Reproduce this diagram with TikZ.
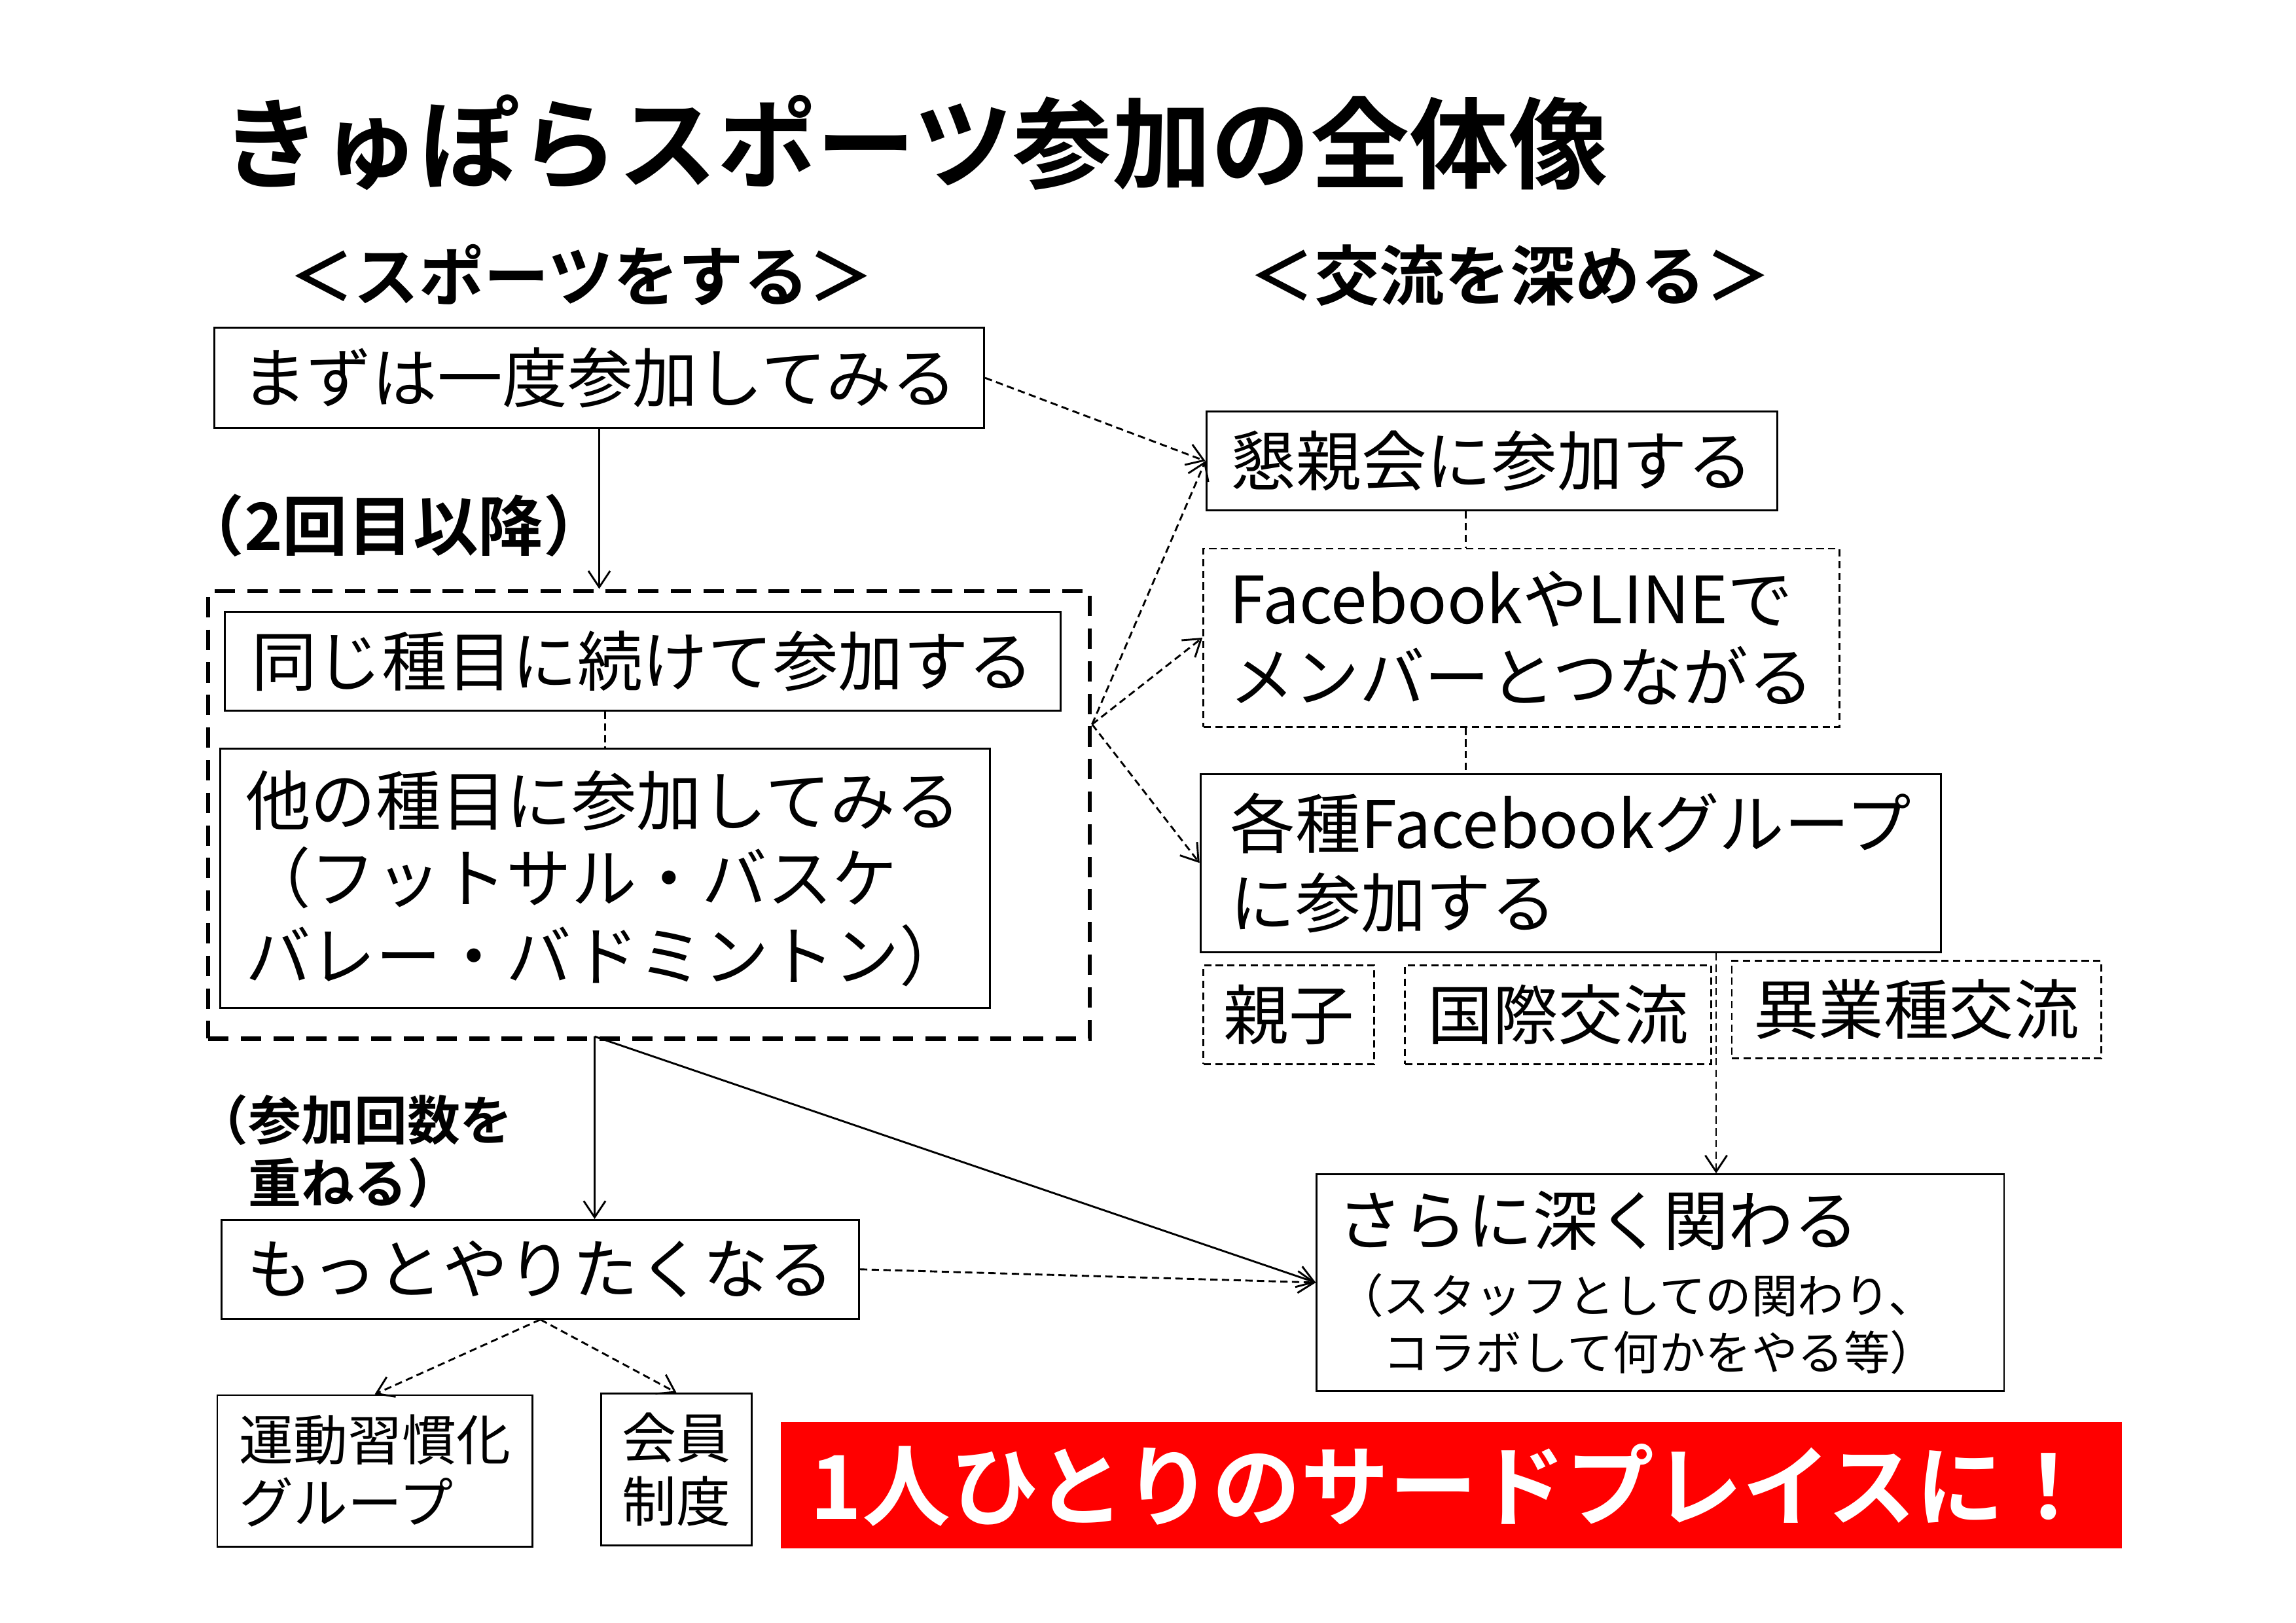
\documentclass[tikz,border=0pt]{standalone}
\usepackage{fontspec}
\setmainfont{Noto Sans CJK JP}[BoldFont={Noto Sans CJK JP Bold}]
\usetikzlibrary{arrows.meta}
\newcommand{\pxu}{0.019038cm}
\tikzset{
  boxed/.style 2 args={anchor=north west, align=left, inner sep=0pt,
    minimum width=#1*\pxu, minimum height=#2*\pxu,
    font=\fontsize{24pt}{28.6pt}\selectfont},
  solidbox/.style 2 args={boxed={#1}{#2}, draw},
  dashbox/.style 2 args={boxed={#1}{#2}, draw, dash pattern=on 2.7pt off 1.6pt},
  groupbox/.style 2 args={boxed={#1}{#2}, draw, line width=1.6pt, dash pattern=on 7.5pt off 4.5pt},
  thindash/.style={dash pattern=on 2.7pt off 1.6pt},
  heading/.style={font=\fontsize{24pt}{28pt}\selectfont\bfseries},
  smalltext/.style={font=\fontsize{20pt}{23.2pt}\selectfont},
}
\begin{document}
\begin{tikzpicture}[x=0.019038cm, y=-0.019038cm, line width=0.7pt,
    >={Straight Barb[length=6pt,width=8pt]}]
  \useasboundingbox (0,0) rectangle (1560,1102.4);
  % title and headings
  \node[anchor=west, inner sep=0pt, font=\fontsize{36.5pt}{40pt}\selectfont\bfseries] (title) at (150,97) {きゅぽらスポーツ参加の全体像};
  \node[heading] (doSport) at (395,187) {＜スポーツをする＞};
  \node[heading] (mingle) at (1026,187) {＜交流を深める＞};

  % left column
  \node[solidbox={523}{68}] (first) at (145,222) {まずは一度参加してみる};
  \node[heading, anchor=west, inner sep=0pt] (again) at (121,357) {（2回目以降）};
  \node[groupbox={599}{304}] (group) at (140,400) {};
  \node[solidbox={568}{67}] (same) at (152,415) {同じ種目に続けて参加する};
  \node[solidbox={523}{176}] (other) at (149,508) {他の種目に参加してみる\\（フットサル・バスケ\\バレー・バドミントン）};
  \node[anchor=west, align=left, inner sep=0pt, font=\fontsize{19.5pt}{23pt}\selectfont\bfseries] (repeat) at (132,782) {（参加回数を\\　重ねる）};
  \node[solidbox={433}{67}] (more) at (150,828) {もっとやりたくなる};
  \node[solidbox={214}{103}, smalltext] (habit) at (147,947) {運動習慣化\\グループ};
  \node[solidbox={102}{103}, smalltext] (member) at (408,946) {会員\\制度};

  % right column
  \node[solidbox={388}{67}] (party) at (819,279) {懇親会に参加する};
  \node[dashbox={432}{121}] (sns) at (817,372) {FacebookやLINEで\\メンバーとつながる};
  \node[solidbox={503}{121}, font=\fontsize{24pt}{29pt}\selectfont] (groups) at (815,525) {各種Facebookグループ\\に参加する};
  \node[dashbox={116}{67}] (family) at (817,655) {親子};
  \node[dashbox={208}{67}] (intl) at (954,655) {国際交流};
  \node[dashbox={251}{66}] (biz) at (1176,652) {異業種交流};
  \node[solidbox={467}{147}, text width=439*\pxu, font=\fontsize{17pt}{21pt}\selectfont] (deeper) at (894,797)
    {{\fontsize{24pt}{28pt}\selectfont さらに深く関わる}\\[4pt]（スタッフとしての関わり、\\　コラボして何かをやる等）};
  \node[anchor=north west, fill=red, text=white, inner sep=0pt, minimum width=911*\pxu, minimum height=86*\pxu,
    font=\fontsize{32.5pt}{40pt}\selectfont\bfseries] (third) at (530,965) {1人ひとりのサードプレイスに！};

  % connectors
  \draw[->] (first.south) -- (first.south |- group.north);
  \draw[thindash] (same.south -| other.north) -- (other.north);
  \coordinate (split) at (404,704);
  \draw[->] (split) -- (split |- more.north);
  \draw[->] (split) -- (deeper.west);
  \draw[thindash,->] (more.east) -- (deeper.west);
  \draw[thindash,->] (more.south) -- (habit.north);
  \draw[thindash,->] (more.south) -- (member.north);
  \draw[thindash,->] (first.east) -- (party.west);
  \coordinate (fork) at (742,492);
  \foreach \t in {party,sns,groups}
    \draw[thindash,->] (fork) -- (\t.west);
  \coordinate (spine) at (996,0);
  \draw[thindash] (party.south -| spine) -- (sns.north -| spine);
  \draw[thindash] (sns.south -| spine) -- (groups.north -| spine);
  \coordinate (drop) at (1166,0);
  \draw[thindash,->] (groups.south -| drop) -- (deeper.north -| drop);
\end{tikzpicture}
\end{document}
